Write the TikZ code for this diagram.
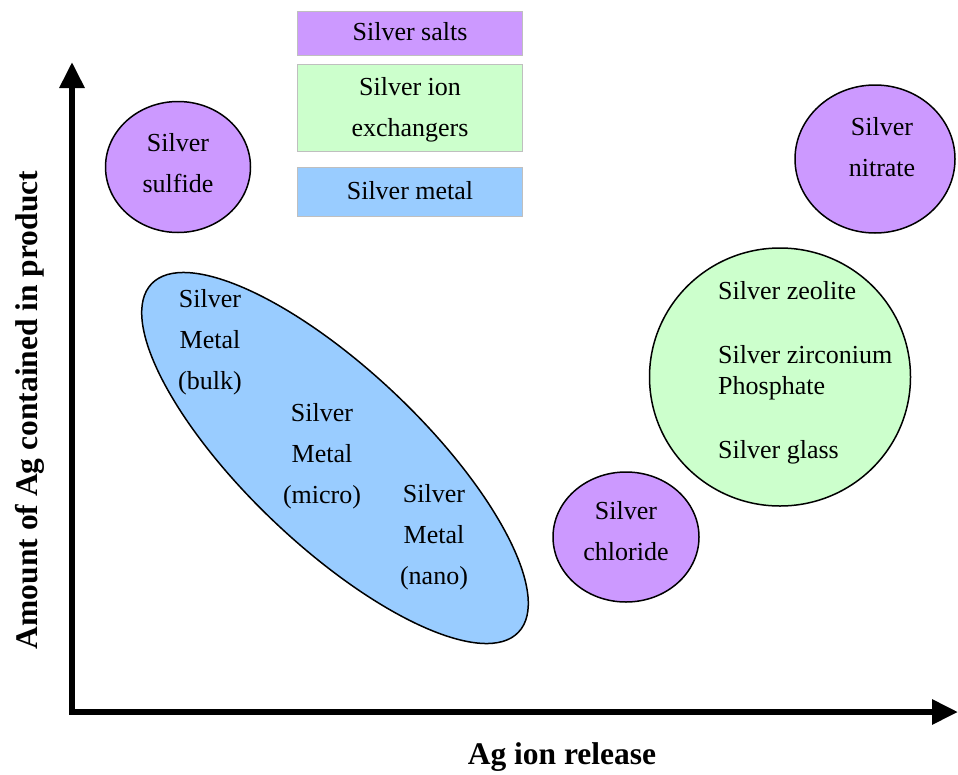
\documentclass[tikz,border=0pt]{standalone}
\usepackage{fontspec}
\setmainfont{Liberation Serif}
\usetikzlibrary{shapes.geometric,arrows.meta}
\definecolor{saltc}{HTML}{CC99FF}
\definecolor{ionc}{HTML}{CCFFCC}
\definecolor{metalc}{HTML}{99CCFF}
\definecolor{boxline}{HTML}{BFBFBF}
\tikzset{
  legendbox/.style={draw=boxline, line width=1pt, minimum width=225pt, inner sep=0pt},
  blob/.style={ellipse, draw=black, line width=1.5pt, inner sep=0pt},
  txt/.style={font=\fontsize{26}{41}\selectfont, align=center, inner sep=0pt},
  axlabel/.style={font=\fontsize{31.5}{36}\selectfont\bfseries, inner sep=0pt},
  axis/.style={line width=6pt, line join=miter, {Triangle[length=26pt,width=24pt]}-{Triangle[length=26pt,width=24pt]}}
}
\begin{document}
\begin{tikzpicture}[x=1pt,y=-1pt]
\useasboundingbox (0,0) rectangle (958,774);
% legend boxes
\node[legendbox, fill=saltc, minimum height=44pt] (salts) at (410,33) {};
\node[legendbox, fill=ionc, minimum height=87pt] (ion) at (410,107.5) {};
\node[legendbox, fill=metalc, minimum height=49pt] (metal) at (410,191.5) {};
\node[txt] (saltsT) at (410,32) {Silver salts};
\node[txt] (ionT) at (410,109.5) {Silver ion\\exchangers};
\node[txt] (metalT) at (410,191) {Silver metal};
% blobs
\node[blob, fill=saltc, minimum width=145pt, minimum height=131pt] (sulfide) at (178,167) {};
\node[blob, fill=saltc, minimum width=160pt, minimum height=148pt] (nitrate) at (875,159) {};
\node[blob, fill=saltc, minimum width=146pt, minimum height=130pt] (chloride) at (626,537) {};
\node[blob, fill=ionc, minimum width=261pt, minimum height=258pt] (exch) at (780,377) {};
\node[blob, fill=metalc, minimum width=506pt, minimum height=176pt, rotate=-43.5] (metalE) at (335,458) {};
% texts
\node[txt] (sulfideT) at (178,163.5) {Silver\\sulfide};
\node[txt] (nitrateT) at (882,147.5) {Silver\\nitrate};
\node[txt] (chlorideT) at (626,531.5) {Silver\\chloride};
\node[txt, align=left, anchor=north west, font=\fontsize{26}{31}\selectfont] (exchT) at (718,281) {Silver zeolite\\[33pt]Silver zirconium\\Phosphate\\[33pt]Silver glass};
\node[txt] (bulkT) at (210,342) {Silver\\Metal\\(bulk)};
\node[txt] (microT) at (322,456) {Silver\\Metal\\(micro)};
\node[txt] (nanoT) at (434,537) {Silver\\Metal\\(nano)};
% axes
\coordinate (ytip) at (72,62);
\coordinate (origin) at (72,712);
\coordinate (xtip) at (958,712);
\draw[axis] (ytip) -- (origin) -- (xtip);
\node[axlabel, rotate=90] (ylab) at (30,410) {Amount of Ag contained in product};
\node[axlabel] (xlab) at (562,757) {Ag ion release};
\end{tikzpicture}
\end{document}
